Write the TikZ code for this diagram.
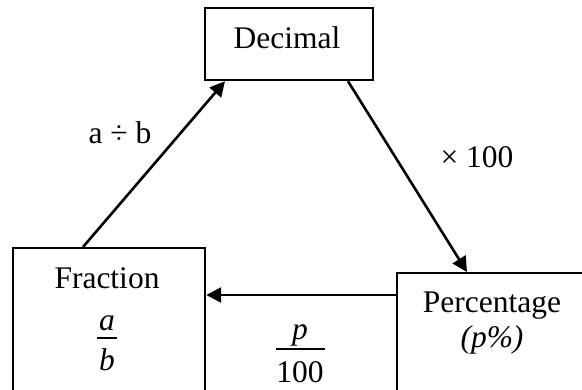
\documentclass[tikz,border=0pt]{standalone}
\usepackage{fontspec}
\setmainfont{Liberation Serif}
\usetikzlibrary{arrows.meta,calc}
\tikzset{
  box/.style={draw, line width=2.2pt, rectangle, inner sep=0pt, anchor=north west},
  arr/.style={line width=2.6pt, -{Triangle[length=15pt,width=15pt]}},
  txt/.style={inner sep=0pt, anchor=base, font=\fontsize{31.5}{37}\selectfont},
  bar/.style={line width=1.4pt}
}
\begin{document}
\begin{tikzpicture}[x=1pt,y=-1pt]
\useasboundingbox (0,0) rectangle (582,389);
\clip (0,0) rectangle (582,389);
\fill[white] (0,0) rectangle (582,389);
% boxes
\node[box, minimum width=168pt, minimum height=72pt] (dec) at (204,7) {};
\node[box, minimum width=192pt, minimum height=173pt] (frac) at (12,247) {};
\node[box, minimum width=230pt, minimum height=150pt] (perc) at (396,272) {};
% box texts
\node[txt] (dect) at (287,48) {Decimal};
\node[txt] (fract) at (107,288) {Fraction};
\node[txt] (fa) at (107,330) {\itshape a};
\node[txt] (fb) at (107,370) {\itshape b};
\draw[bar] (97,338) -- (117,338);
\node[txt] (perct) at (492,312) {Percentage};
\node[txt] (percp) at (492,347) {\itshape (p\%)};
% connectors
\draw[arr] ($(frac.north west)+(71,0)$) -- ($(dec.south west)+(21,0)$);
\draw[arr] ($(dec.south west)+(144,0)$) -- ($(perc.north west)+(71,0)$);
\draw[arr] ($(perc.north west)+(0,23)$) -- ($(frac.north east)+(0,48)$);
% connector labels
\node[txt] (l1) at (120,143) {a ÷ b};
\node[txt] (l2) at (477,167) {× 100};
\node[txt] (l3p) at (300,339) {\itshape p};
\draw[bar] (276,349) -- (325,349);
\node[txt] (l3d) at (300,382) {100};
\end{tikzpicture}
\end{document}
